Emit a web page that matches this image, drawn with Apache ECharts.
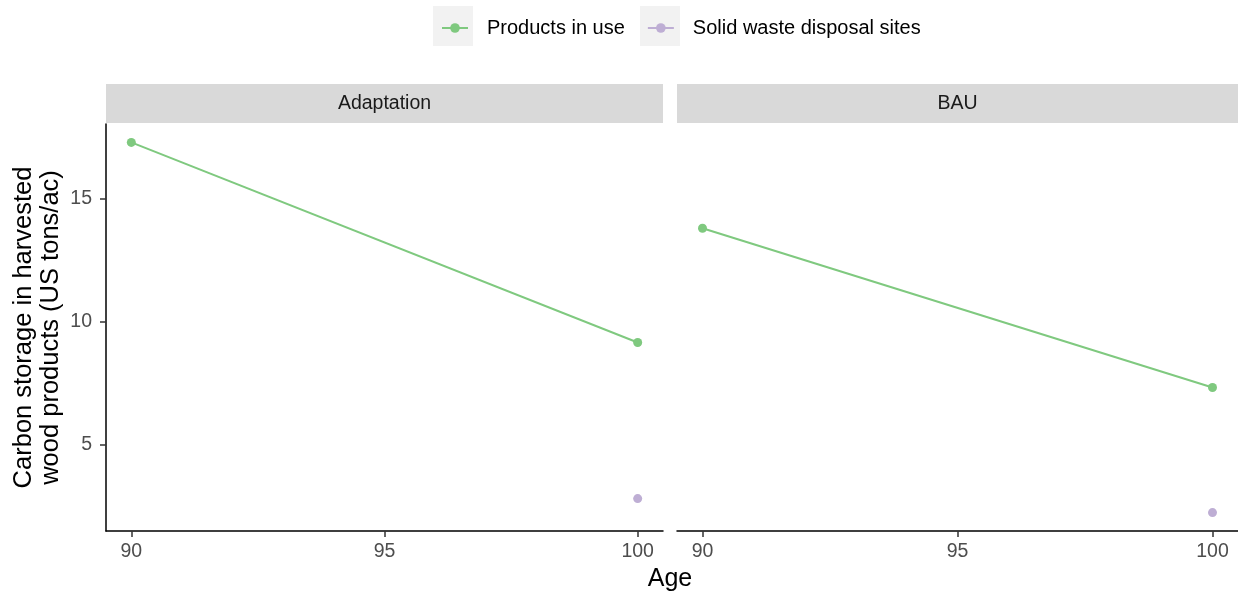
<!DOCTYPE html>
<html>
<head>
<meta charset="utf-8">
<script src="https://cdn.jsdelivr.net/npm/echarts@6/dist/echarts.min.js"></script>
<style>html,body{margin:0;padding:0;background:#fff}#c{width:1238px;height:596px}</style>
</head>
<body>
<div id="c"></div>
<script>
const panels = ['Adaptation', 'BAU'];
const ages = [90, 100];
const adaptProducts = [17.29, 9.15];
const adaptWaste = [null, 2.80];
const bauProducts = [13.8, 7.32];
const bauWaste = [null, 2.23];
const xTicks = [90, 95, 100];
const yTicks = [5, 10, 15];
const seriesNames = ['Products in use', 'Solid waste disposal sites'];
const colors = ['#7FC97F', '#BEAED4'];

function pts(vals) { return ages.map((a, i) => vals[i] == null ? null : [a, vals[i]]).filter(p => p); }

const FONT = 'Liberation Sans, Arial, sans-serif';
const chart = echarts.init(document.getElementById('c'));
const grids = [
  { left: 106, width: 557, top: 124, bottom: 65 },
  { left: 677, right: 0, top: 124, bottom: 65 }
];
const xAxes = grids.map((g, i) => ({
  type: 'value', gridIndex: i, min: 89.5, max: 100.5,
  axisLine: { show: true, lineStyle: { color: '#000', width: 1.5 } },
  axisTick: { show: true, length: 6, lineStyle: { color: '#333', width: 1.5 }, customValues: xTicks },
  axisLabel: { color: '#4D4D4D', fontSize: 19.5, fontFamily: FONT, margin: 11, customValues: xTicks },
  splitLine: { show: false }
}));
const yAxes = grids.map((g, i) => ({
  type: 'value', gridIndex: i, min: 1.48, max: 18.04,
  axisLine: { show: i === 0, lineStyle: { color: '#000', width: 1.5 } },
  axisTick: { show: i === 0, length: 6, lineStyle: { color: '#333', width: 1.5 }, customValues: yTicks },
  axisLabel: { show: i === 0, color: '#4D4D4D', fontSize: 19.5, fontFamily: FONT, margin: 14, customValues: yTicks },
  splitLine: { show: false },
  name: i === 0 ? 'Carbon storage in harvested\nwood products (US tons/ac)' : '',
  nameLocation: 'middle', nameRotate: 90, nameGap: 42,
  nameTextStyle: { color: '#000', fontSize: 25.5, fontFamily: FONT, lineHeight: 27 }
}));
const panelData = [[adaptProducts, adaptWaste], [bauProducts, bauWaste]];
const series = [];
panelData.forEach((pd, gi) => {
  pd.forEach((vals, si) => {
    series.push({
      type: 'line', name: seriesNames[si], xAxisIndex: gi, yAxisIndex: gi,
      data: pts(vals), symbol: 'circle', symbolSize: 9, showSymbol: true,
      itemStyle: { color: colors[si] }, lineStyle: { color: colors[si], width: 2 },
      animation: false
    });
  });
});
const graphics = [];
const strips = [[106, 557], [677, 561]];
strips.forEach((s, i) => {
  graphics.push({ type: 'rect', shape: { x: s[0], y: 84, width: s[1], height: 39 }, style: { fill: '#D9D9D9' }, silent: true });
  graphics.push({ type: 'text', x: s[0] + s[1] / 2, y: 104, style: { text: panels[i], fill: '#1A1A1A', font: '19.5px ' + FONT, textAlign: 'center', textVerticalAlign: 'middle' }, silent: true });
});
graphics.push({ type: 'rect', shape: { x: 433, y: 6, width: 40, height: 40 }, style: { fill: '#F2F2F2' }, silent: true, z: -1 });
graphics.push({ type: 'rect', shape: { x: 640, y: 6, width: 40, height: 40 }, style: { fill: '#F2F2F2' }, silent: true, z: -1 });
graphics.push({ type: 'text', x: 670, y: 579, style: { text: 'Age', fill: '#000', font: '25px ' + FONT, textAlign: 'center', textVerticalAlign: 'middle' }, silent: true });

chart.setOption({
  animation: false,
  backgroundColor: '#fff',
  grid: grids,
  xAxis: xAxes,
  yAxis: yAxes,
  legend: {
    data: seriesNames, left: 441, top: 18, itemWidth: 26, itemHeight: 12, itemGap: 22,
    padding: 0,
    textStyle: { color: '#000', fontSize: 20, fontFamily: FONT, padding: [0, 0, 0, 14] }
  },
  graphic: graphics,
  series: series
});
</script>
</body>
</html>
